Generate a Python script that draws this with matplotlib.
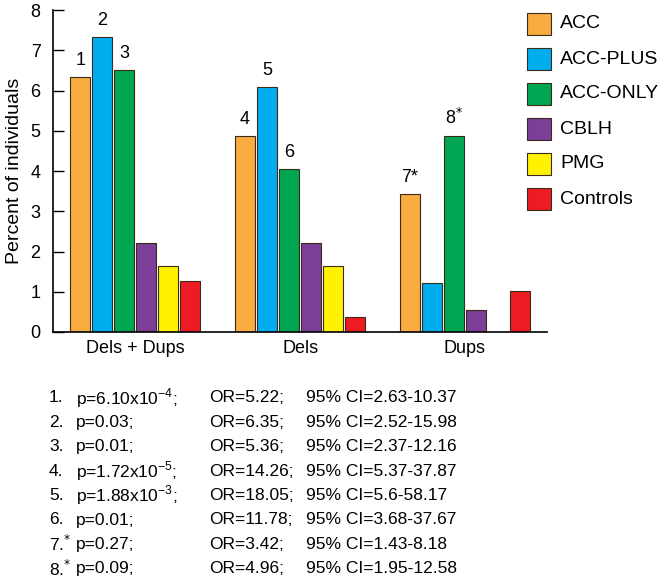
import numpy as np
import matplotlib.pyplot as plt

plt.rcParams['font.family'] = ['Liberation Sans', 'DejaVu Sans']

groups = ['Dels + Dups', 'Dels', 'Dups']
series = ['ACC', 'ACC-PLUS', 'ACC-ONLY', 'CBLH', 'PMG', 'Controls']
colors = ['#F9AC3F', '#00AEEF', '#00A651', '#7C3F98', '#FFF200', '#ED1C24']

acc = [6.34, 4.88, 3.42]
acc_plus = [7.33, 6.10, 1.22]
acc_only = [6.50, 4.06, 4.88]
cblh = [2.22, 2.22, 0.55]
pmg = [1.65, 1.65, 0.0]
controls = [1.26, 0.36, 1.01]
values = [acc, acc_plus, acc_only, cblh, pmg, controls]

# bar labels: (group, series index, text)
bar_labels = [(0, 0, '1'), (0, 1, '2'), (0, 2, '3'),
              (1, 0, '4'), (1, 1, '5'), (1, 2, '6'),
              (2, 0, '7*'), (2, 2, '8$^{*}$')]

stats = [
    ('1.', r'p=6.10x10$^{\mathregular{-4}}$;', 'OR=5.22;', '95% CI=2.63-10.37'),
    ('2.', 'p=0.03;', 'OR=6.35;', '95% CI=2.52-15.98'),
    ('3.', 'p=0.01;', 'OR=5.36;', '95% CI=2.37-12.16'),
    ('4.', r'p=1.72x10$^{\mathregular{-5}}$;', 'OR=14.26;', '95% CI=5.37-37.87'),
    ('5.', r'p=1.88x10$^{\mathregular{-3}}$;', 'OR=18.05;', '95% CI=5.6-58.17'),
    ('6.', 'p=0.01;', 'OR=11.78;', '95% CI=3.68-37.67'),
    (r'7.$^{*}$', 'p=0.27;', 'OR=3.42;', '95% CI=1.43-8.18'),
    (r'8.$^{*}$', 'p=0.09;', 'OR=4.96;', '95% CI=1.95-12.58'),
]

fig = plt.figure(figsize=(6.66, 5.82), dpi=100)
ax = fig.add_axes([0.0796, 0.4296, 0.742, 0.553])

x = np.arange(len(groups))
pitch = 0.1335
width = 0.121
for i, (vals, c) in enumerate(zip(values, colors)):
    pos = x + (i - 2.5) * pitch
    for p, v in zip(pos, vals):
        if v > 0:
            ax.bar(p, v, width=width, color=c, edgecolor='#3a2a1a', linewidth=0.8)

for g, s, t in bar_labels:
    ax.text(x[g] + (s - 2.5) * pitch, values[s][g] + 0.2, t,
            ha='center', va='bottom', fontsize=13)

ax.set_xlim(-0.5, 2.5)
ax.set_ylim(0, 8)
ax.set_yticks(range(9))
ax.set_xticks(x)
ax.set_xticklabels(groups, fontsize=13)
ax.tick_params(axis='y', direction='in', length=8, width=1, labelsize=13, pad=9)
ax.tick_params(axis='x', length=0, pad=6)
ax.spines['top'].set_visible(False)
ax.spines['right'].set_visible(False)
ax.spines['left'].set_linewidth(1.2)
ax.spines['bottom'].set_linewidth(1.2)
ax.set_ylabel('Percent of individuals', fontsize=14, labelpad=5)

# legend drawn as patches on the right
for i, (name, c) in enumerate(zip(series, colors)):
    yc = 1 - (24 + 35 * i) / 582
    fig.patches.append(plt.Rectangle((527 / 666, yc - 11 / 582), 24 / 666, 22 / 582,
                                     transform=fig.transFigure, facecolor=c,
                                     edgecolor='#3a2a1a', linewidth=0.8))
    fig.text(560 / 666, yc, name, ha='left', va='center', fontsize=14)

# statistics table below the chart
for i, (n, p, orr, ci) in enumerate(stats):
    yc = 1 - (398 + 24.4 * i) / 582
    fig.text(49 / 666, yc, n, ha='left', va='center', fontsize=12.5)
    fig.text(76 / 666, yc, p, ha='left', va='center', fontsize=12.5)
    fig.text(209 / 666, yc, orr, ha='left', va='center', fontsize=12.5)
    fig.text(306 / 666, yc, ci, ha='left', va='center', fontsize=12.5)

fig.savefig('out.png', dpi=100)
